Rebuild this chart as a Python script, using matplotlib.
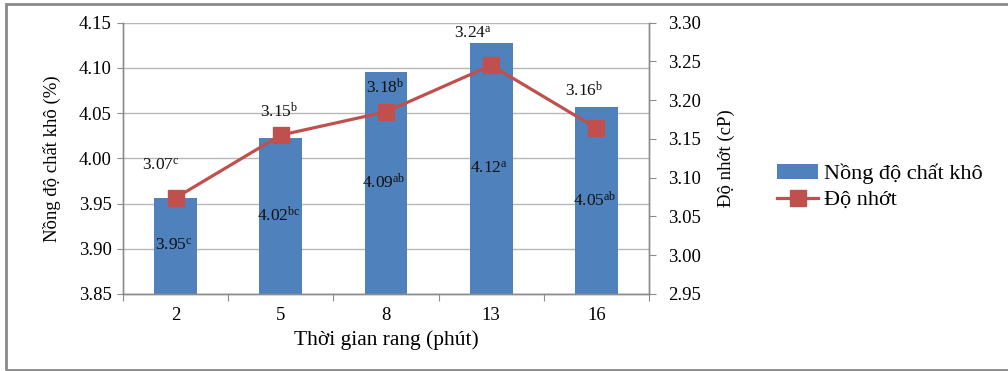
import matplotlib
matplotlib.use("Agg")
import matplotlib.pyplot as plt
from matplotlib.patches import Rectangle
from matplotlib.ticker import FormatStrFormatter, MultipleLocator

plt.rcParams['font.family'] = ['Liberation Serif', 'DejaVu Serif']
plt.rcParams['mathtext.fontset'] = 'custom'
plt.rcParams['mathtext.rm'] = 'Liberation Serif'
plt.rcParams['mathtext.it'] = 'Liberation Serif:italic'

# data
times = ['2', '5', '8', '13', '16']
dry_matter = [3.956, 4.023, 4.095, 4.128, 4.057]
viscosity = [3.074, 3.155, 3.185, 3.245, 3.164]
dry_labels = ['3.95$^{\\mathrm{c}}$', '4.02$^{\\mathrm{bc}}$', '4.09$^{\\mathrm{ab}}$',
              '4.12$^{\\mathrm{a}}$', '4.05$^{\\mathrm{ab}}$']
visc_labels = ['3.07$^{\\mathrm{c}}$', '3.15$^{\\mathrm{b}}$', '3.18$^{\\mathrm{b}}$',
               '3.24$^{\\mathrm{a}}$', '3.16$^{\\mathrm{b}}$']

# label offsets (points) for the viscosity labels
visc_offsets = [(-11, 23), (-1, 17), (-1, 17), (-13, 23), (-9, 27)]

bar_color = '#4F81BD'
line_color = '#C0504D'
axis_color = '#8c8c8c'
grid_color = '#b8b8b8'

fig = plt.figure(figsize=(10.08, 3.71), dpi=100)
ax = fig.add_axes([123 / 1008, 1 - 294 / 371, (649 - 123) / 1008, (294 - 22.7) / 371])
ax2 = ax.twinx()

x = list(range(len(times)))
ymin = 3.85
ax.bar(x, [v - ymin for v in dry_matter], bottom=ymin, width=0.405,
       color=bar_color, zorder=2, label='Nồng độ chất khô')
ax.set_ylim(3.85, 4.15)
ax.set_xlim(-0.5, len(times) - 0.5)
ax.yaxis.set_major_locator(MultipleLocator(0.05))
ax.yaxis.set_major_formatter(FormatStrFormatter('%.2f'))
ax.grid(axis='y', color=grid_color, linewidth=1.0, zorder=0)
ax.set_axisbelow(True)

for xi, v, lab in zip(x, dry_matter, dry_labels):
    ax.text(xi - 0.02, (ymin + v) / 2, lab, ha='center', va='center',
            fontsize=12.5, color='#111111', zorder=5)

# x ticks at category boundaries, labels at centers
ax.set_xticks([i - 0.5 for i in range(len(times) + 1)])
ax.set_xticklabels([])
ax.set_xticks(x, minor=True)
ax.set_xticklabels(times, minor=True)
ax.tick_params(axis='x', which='major', length=5, color=axis_color, direction='out')
ax.tick_params(axis='x', which='minor', length=0, pad=9, labelsize=13.5)
ax.tick_params(axis='y', length=4.5, color=axis_color, pad=3.5, labelsize=13.5)

ax2.plot(x, viscosity, color=line_color, linewidth=2.3, marker='s',
         markersize=11.5, markerfacecolor=line_color, markeredgecolor=line_color,
         zorder=3, label='Độ nhớt')
ax2.set_ylim(2.95, 3.30)
ax2.yaxis.set_major_locator(MultipleLocator(0.05))
ax2.yaxis.set_major_formatter(FormatStrFormatter('%.2f'))
ax2.tick_params(axis='y', length=5, color=axis_color, pad=8.5, labelsize=13.5)

for xi, v, lab, off in zip(x, viscosity, visc_labels, visc_offsets):
    ax2.annotate(lab, (xi, v), xytext=off, textcoords='offset points',
                 ha='center', va='center', fontsize=12.5, color='#111111')

for a in (ax, ax2):
    a.spines['top'].set_visible(False)
    for s in ('left', 'right', 'bottom'):
        a.spines[s].set_color(axis_color)
        a.spines[s].set_linewidth(1.0)

ax.set_ylabel('Nồng độ chất khô (%)', fontsize=13.5)
ax.yaxis.set_label_coords(-0.117, 0.5)
ax2.set_ylabel('Độ nhớt (cP)', fontsize=13.5)
ax2.yaxis.set_label_coords(1.131, 0.5)
ax.set_xlabel('Thời gian rang (phút)', fontsize=15.5, labelpad=5)

h1, l1 = ax.get_legend_handles_labels()
h2, l2 = ax2.get_legend_handles_labels()
fig.legend(h1 + h2, l1 + l2, loc='center left',
           bbox_to_anchor=(757 / 1008, 1 - 187 / 371), frameon=False,
           fontsize=16, handlelength=1.85, handletextpad=0.25, labelspacing=0.25)

# outer chart border
fig.patches.append(Rectangle((6 / 1008, 1 - 370 / 371), 1.1, (366) / 371,
                             transform=fig.transFigure, fill=False,
                             edgecolor='#8a8a8a', linewidth=2, clip_on=False))

fig.savefig('out.png', dpi=100)
